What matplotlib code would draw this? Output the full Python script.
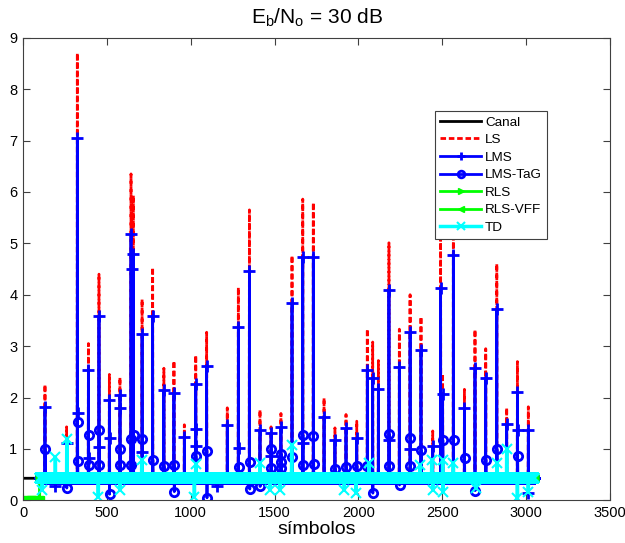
import matplotlib
matplotlib.use("Agg")
import matplotlib.pyplot as plt
import numpy as np

plt.rcParams['font.family'] = ['Liberation Sans', 'DejaVu Sans']

# comprimento da simulação e treinamento inicial
n_sym = 3050
n_train = 100
canal_val = 0.43
base = 0.44

# picos (símbolo, LS, LMS)
spk_sym = [131, 260, 324, 390, 453, 515, 578, 644, 651, 658, 710, 773, 840,
           900, 962, 1030, 1095, 1218, 1284, 1350, 1413, 1479, 1538, 1604,
           1668, 1731, 1795, 1860, 1926, 1990, 2053, 2085, 2119, 2182, 2244,
           2308, 2373, 2443, 2490, 2502, 2566, 2632, 2695, 2759, 2825, 2884,
           2948, 3013]
ls_peak = [2.25, 1.43, 8.70, 3.05, 4.40, 2.45, 2.39, 6.35, 5.60, 5.93, 3.91,
           4.53, 2.57, 2.71, 1.47, 2.82, 3.27, 1.80, 4.14, 5.65, 1.76, 1.43,
           1.69, 4.76, 5.86, 5.79, 1.99, 1.41, 1.67, 1.54, 3.33, 3.08, 2.72,
           5.01, 3.33, 4.00, 3.57, 1.35, 5.10, 2.46, 5.20, 2.16, 3.32, 2.95,
           4.60, 1.80, 2.70, 1.82]
lms_peak = [1.82, 1.12, 7.04, 2.54, 3.59, 1.95, 2.05, 5.18, 4.50, 4.79, 3.23,
            3.59, 2.14, 2.08, 1.24, 2.26, 2.62, 1.47, 3.38, 4.46, 1.37, 1.32,
            1.42, 3.83, 4.74, 4.73, 1.63, 1.18, 1.40, 1.21, 2.54, 2.39, 2.17,
            4.09, 2.60, 3.28, 2.92, 1.05, 4.13, 2.06, 4.77, 1.80, 2.57, 2.39,
            3.72, 1.49, 2.10, 1.37]

# amostras adicionais do LMS junto aos picos
lms_x_sym = [193, 325, 391, 454, 516, 579, 711, 1031, 1032, 1155, 1285, 1480,
             1669, 2183, 2309, 2949, 3014]
lms_x_val = [0.28, 1.70, 0.83, 1.03, 1.21, 1.80, 0.95, 1.39, 1.05, 0.27, 1.02,
             0.86, 1.12, 1.18, 1.00, 1.36, 0.14]

# LMS-TaG
tag_sym = [132, 261, 325, 326, 391, 392, 454, 455, 516, 579, 580, 645, 646,
           659, 711, 774, 841, 901, 902, 1031, 1096, 1097, 1285, 1351, 1352,
           1414, 1480, 1481, 1539, 1540, 1541, 1605, 1669, 1670, 1732, 1733,
           1861, 1927, 1991, 2054, 2086, 2183, 2184, 2245, 2309, 2310, 2374,
           2503, 2567, 2633, 2696, 2760, 2826, 2949]
tag_val = [0.99, 0.24, 1.52, 0.77, 1.27, 0.69, 1.37, 0.69, 0.12, 0.99, 0.69,
           1.20, 0.69, 1.27, 1.20, 0.79, 0.66, 0.68, 0.17, 0.86, 0.97, 0.05,
           0.64, 0.75, 0.22, 0.27, 0.99, 0.63, 0.90, 0.75, 0.63, 0.85, 1.27,
           0.68, 1.25, 0.71, 0.62, 0.65, 0.67, 0.66, 0.14, 1.29, 0.66, 0.30,
           1.22, 0.66, 0.98, 1.17, 1.18, 0.82, 0.19, 0.79, 0.99, 0.86]

# TD
td_sym = [115, 193, 261, 449, 578, 708, 1022, 1030, 1413, 1473, 1532, 1602,
          1916, 1986, 2063, 2367, 2437, 2443, 2502, 2504, 2566, 2701, 2825,
          2884, 2948, 3013]
td_val = [0.20, 0.84, 1.20, 0.07, 0.20, 0.79, 0.07, 0.70, 0.72, 0.20, 0.20,
          1.08, 0.20, 0.14, 0.72, 0.69, 0.79, 0.20, 0.79, 0.17, 0.72, 0.24,
          0.72, 0.99, 0.04, 0.17]


def serie(pos, val, inicio):
    y = np.full(n_sym, base)
    y[:n_train] = inicio
    y[pos] = val
    return y


k = np.arange(n_sym)
canal = np.full(n_sym, canal_val)
ls = serie(spk_sym, ls_peak, np.nan)
lms = serie(spk_sym + lms_x_sym, lms_peak + lms_x_val, np.nan)
tag = serie(tag_sym, tag_val, np.nan)
rls = serie([], [], 0.0)
rls_vff = serie([], [], 0.0)
td = serie(td_sym, td_val, np.nan)

fig = plt.figure(figsize=(6.25, 5.43), dpi=100)
ax = fig.add_axes([0.0368, 0.0785, 0.9392, 0.8521])

ax.plot(k, canal, color='k', lw=2, label='Canal')
ax.plot(k, ls, color='#ff0000', lw=2, ls='--', dashes=(2, 1), label='LS')
ax.plot(k, lms, color='#0000ff', lw=2, marker='+', ms=8, mew=2, label='LMS')
ax.plot(k, tag, color='#0000ff', lw=2, marker='o', ms=6, mew=2,
        mfc='none', label='LMS-TaG')
ax.plot(k, rls, color='#00ff00', lw=2, marker='>', ms=6, label='RLS')
ax.plot(k, rls_vff, color='#00ff00', lw=2, marker='<', ms=6, label='RLS-VFF')
ax.plot(k, td, color='#00ffff', lw=2.5, marker='x', ms=7, mew=1.5, label='TD')

ax.set_xlim(0, 3500)
ax.set_ylim(0, 9)
ax.set_xticks(np.arange(0, 3501, 500))
ax.set_yticks(np.arange(0, 10, 1))
ax.tick_params(direction='in', top=True, right=True, length=5, width=0.8,
               labelsize=10.5, color='#404040', pad=4)
for s in ax.spines.values():
    s.set_color('#404040')
    s.set_linewidth(0.8)

ax.set_title(r'E$_\mathregular{b}$/N$_\mathregular{o}$ = 30 dB', fontsize=15, pad=10)
ax.set_xlabel('símbolos', fontsize=14, labelpad=1)

leg = ax.legend(loc='upper left', bbox_to_anchor=(0.702, 0.842),
                borderaxespad=0, fontsize=9.7, numpoints=1, handlelength=3.0,
                labelspacing=0.38, fancybox=False, framealpha=1,
                edgecolor='#404040', borderpad=0.4, handletextpad=0.3,
                markerscale=0.8)
leg.get_frame().set_linewidth(0.8)

fig.savefig('out.png', dpi=100)
